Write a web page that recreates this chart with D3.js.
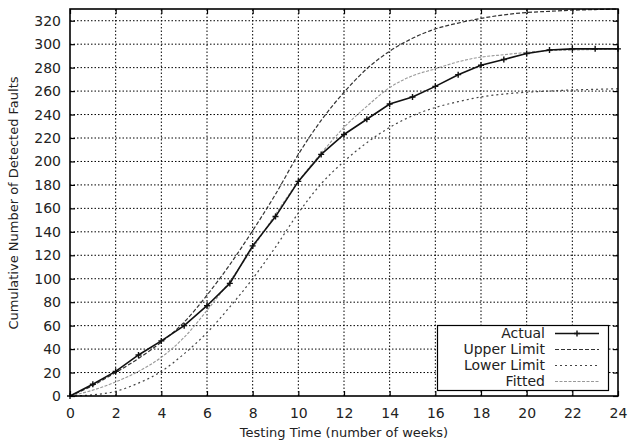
<!DOCTYPE html>
<html>
<head>
<meta charset="utf-8">
<script src="https://cdn.jsdelivr.net/npm/d3@7"></script>
<style>
  body { margin: 0; background: #fff; }
  svg { font-family: 'DejaVu Sans', sans-serif; }
</style>
</head>
<body>
<div id="chart"></div>
<script>
const weeks = d3.range(0, 25)
const actual = [0, 10, 21, 35, 47, 60, 77, 96, 128, 153, 183, 206, 223, 236, 249, 255, 264, 274, 282, 287, 292, 295, 296, 296, 296]
const upperLimit = [0, 9, 20, 32, 46, 63, 86, 112, 141, 172, 206, 235, 259, 279, 294, 305, 313, 318, 322, 325, 327, 328, 329, 329.5, 330]
const lowerLimit = [0, 1, 4, 11, 21, 36, 54, 76, 100, 127, 156, 181, 200, 216, 229, 239, 246, 251, 255, 257.5, 259, 260, 261, 261.5, 262]
const fitted = [0, 5, 12, 21, 33, 50, 73, 98, 126, 155, 183, 207, 229, 247, 263, 273, 279, 285, 289, 291, 293, 294.5, 295, 295.5, 296]
const xTicks = d3.range(0, 25, 2)
const yTicks = d3.range(0, 321, 20)

const width = 629
const height = 441
const margin = { left: 70, right: 11, top: 9, bottom: 45 }

const svg = d3.select('#chart')
  .append('svg')
  .attr('width', width)
  .attr('height', height)

const x = d3.scaleLinear().domain([0, 24]).range([margin.left, width - margin.right])
const y = d3.scaleLinear().domain([0, 330]).range([height - margin.bottom, margin.top])

// grid
const grid = svg.append('g').attr('class', 'grid')
  .attr('stroke', '#000')
  .attr('stroke-width', 1)
  .attr('stroke-dasharray', '1.5,2')
grid.selectAll('line.gx')
  .data(xTicks.filter(d => d > 0 && d < 24))
  .enter().append('line')
  .attr('x1', d => x(d)).attr('x2', d => x(d))
  .attr('y1', y(0)).attr('y2', y(330))
grid.selectAll('line.gy')
  .data(yTicks.filter(d => d > 0))
  .enter().append('line')
  .attr('x1', x(0)).attr('x2', x(24))
  .attr('y1', d => y(d)).attr('y2', d => y(d))

// axes with inward ticks
const xAxis = d3.axisBottom(x).tickValues(xTicks).tickSize(-5).tickPadding(12)
const yAxis = d3.axisLeft(y).tickValues(yTicks).tickSize(-5).tickPadding(9)

svg.append('g')
  .attr('transform', 'translate(0,' + y(0) + ')')
  .call(xAxis)
  .call(g => g.select('.domain').remove())
svg.append('g')
  .attr('transform', 'translate(' + x(0) + ',0)')
  .call(yAxis)
  .call(g => g.select('.domain').remove())
svg.append('g')
  .attr('transform', 'translate(0,' + y(330) + ')')
  .call(d3.axisTop(x).tickValues(xTicks).tickSize(-5).tickFormat(''))
  .call(g => g.select('.domain').remove())
svg.append('g')
  .attr('transform', 'translate(' + x(24) + ',0)')
  .call(d3.axisRight(y).tickValues(yTicks).tickSize(-5).tickFormat(''))
  .call(g => g.select('.domain').remove())

svg.selectAll('.tick text')
  .attr('font-size', 14)
  .attr('font-family', 'DejaVu Sans, sans-serif')
  .attr('fill', '#222')
svg.selectAll('.tick line').attr('stroke', '#000').attr('stroke-width', 1.2)

// series
const series = [
  { name: 'Actual', values: actual, color: '#111', width: 1.6, dash: null, marker: true },
  { name: 'Upper Limit', values: upperLimit, color: '#333', width: 1.2, dash: '4,2', marker: false },
  { name: 'Lower Limit', values: lowerLimit, color: '#444', width: 1.2, dash: '2,3', marker: false },
  { name: 'Fitted', values: fitted, color: '#999', width: 1.1, dash: '3,1.5', marker: false }
]

const line = d3.line()
  .x((d, i) => x(weeks[i]))
  .y(d => y(d))

const plot = svg.append('g')
series.slice().reverse().forEach(s => {
  plot.append('path')
    .datum(s.values)
    .attr('fill', 'none')
    .attr('stroke', s.color)
    .attr('stroke-width', s.width)
    .attr('stroke-dasharray', s.dash)
    .attr('d', s.marker ? line.curve(d3.curveLinear)(s.values) : line.curve(d3.curveMonotoneX)(s.values))
})

const plus = (g, cx, cy, r) => {
  g.append('path')
    .attr('d', `M${cx - r},${cy}H${cx + r}M${cx},${cy - r}V${cy + r}`)
    .attr('stroke', '#111')
    .attr('stroke-width', 1.4)
}
actual.forEach((v, i) => plus(plot, x(weeks[i]), y(v), 3))

// border
svg.append('rect')
  .attr('x', x(0)).attr('y', y(330))
  .attr('width', x(24) - x(0)).attr('height', y(0) - y(330))
  .attr('fill', 'none')
  .attr('stroke', '#000')
  .attr('stroke-width', 1.6)

// legend
const legend = svg.append('g')
legend.append('rect')
  .attr('x', 437.5).attr('y', 325.5)
  .attr('width', 171).attr('height', 65)
  .attr('fill', '#fff')
  .attr('stroke', '#000')
  .attr('stroke-width', 1.2)

series.forEach((s, i) => {
  const ly = 333.5 + i * 16
  legend.append('text')
    .attr('x', 545).attr('y', ly)
    .attr('dy', '0.35em')
    .attr('text-anchor', 'end')
    .attr('font-size', 14)
    .attr('fill', '#222')
    .text(s.name)
  legend.append('line')
    .attr('x1', 555).attr('x2', 599)
    .attr('y1', ly).attr('y2', ly)
    .attr('stroke', s.color)
    .attr('stroke-width', s.width)
    .attr('stroke-dasharray', s.dash)
  if (s.marker) plus(legend, 577, ly, 3)
})

// axis titles
svg.append('text')
  .attr('x', (x(0) + x(24)) / 2)
  .attr('y', 436.5)
  .attr('text-anchor', 'middle')
  .attr('font-size', 13)
  .attr('fill', '#222')
  .text('Testing Time (number of weeks)')

svg.append('text')
  .attr('transform', 'translate(18,' + 203 + ') rotate(-90)')
  .attr('text-anchor', 'middle')
  .attr('font-size', 13)
  .attr('fill', '#222')
  .text('Cumulative Number of Detected Faults')
</script>
</body>
</html>
